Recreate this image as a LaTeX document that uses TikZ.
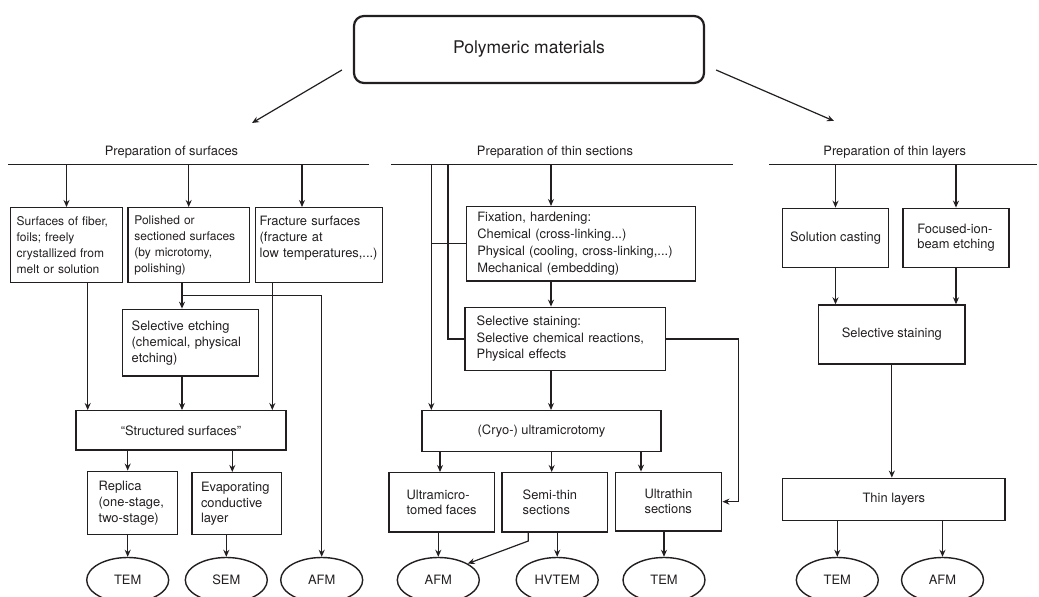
\documentclass[tikz,border=0pt]{standalone}
\usepackage{fontspec}
\setmainfont{TeX Gyre Heros}
\usepackage{tikz}
\usetikzlibrary{arrows.meta}
\usetikzlibrary{positioning,shapes.geometric}
\definecolor{ink}{RGB}{35,31,32}
\tikzset{
    box/.style={
        draw=ink,
        text=ink,
        line width=1.4pt,
        rectangle,
        inner xsep=6pt,
        inner ysep=0pt,
        align=left,
        font=\fontsize{12.9}{16.5}\selectfont
    },
    smallfont/.style={font=\fontsize{12}{16}\selectfont},
    tech/.style={
        draw=ink,
        text=ink,
        ellipse,
        line width=1.4pt,
        minimum width=82pt,
        minimum height=45pt,
        inner sep=0pt,
        font=\fontsize{12.9}{15}\selectfont
    },
    head/.style={text=ink, font=\fontsize{12.9}{15}\selectfont},
    arr/.style={
        draw=ink,
        line width=1.2pt,
        -{Stealth[length=7pt, width=6pt]}
    },
    link/.style={draw=ink, line width=1.2pt}
}

\begin{document}
\begin{tikzpicture}[x=1pt, y=-1pt]
  \useasboundingbox (0,0) rectangle (1039,597);

  % Root and the three branches
  \node[draw=ink, text=ink, line width=2.2pt, rounded corners=10pt, minimum width=350pt, minimum height=67pt, font=\fontsize{17.5}{21}\selectfont] (poly) at (529,49.5) {Polymeric materials};
  \coordinate (lft) at (252,123);
  \coordinate (rgt) at (834,121);
  \draw[arr] ([shift={(-11,20.5)}]poly.west) -- (lft);
  \draw[arr] ([shift={(11,20.5)}]poly.east) -- (rgt);

  % Preparation of surfaces
  \node[head] (hsurf) at (171.5,152) {Preparation of surfaces};
  \coordinate (s0) at (8,164.3);
  \coordinate (s1) at (369,164.3);
  \draw[link] (s0) -- (s1);

  \node[box, smallfont, minimum height=75pt, inner xsep=6pt, text width=99.6pt] (fiber) at (66.5,245.2) {Surfaces of fiber,\\foils; freely\\crystallized from\\melt or solution};
  \node[box, smallfont, minimum height=75pt, inner xsep=6.3pt, text width=108.7pt] (polish) at (188.7,245.2) {Polished or\\sectioned surfaces\\(by microtomy,\\polishing)};
  \node[box, minimum height=75pt, inner xsep=4pt, text width=119pt, font=\fontsize{12.9}{16}\selectfont] (fract) at (319.2,245.2) {Fracture surfaces\\(fracture at\\low temperatures,...)\\\mbox{}};
  \node[box, minimum height=66.7pt, inner xsep=9pt, text width=117.6pt, font=\fontsize{12.9}{16}\selectfont] (etch) at (190.5,342.7) {Selective etching\\(chemical, physical\\etching)};
  \node[box, minimum width=210pt, minimum height=39.3pt] (struct) at (181,430.4) {``Structured surfaces''};
  \node[box, minimum height=63.4pt, inner xsep=11pt, text width=68pt, font=\fontsize{12.9}{16}\selectfont] (replica) at (132.7,503) {Replica\\(one-stage,\\two-stage)};
  \node[box, minimum height=62pt, inner xsep=9pt, text width=71.7pt, font=\fontsize{12.9}{15.5}\selectfont] (evap) at (236.85,503.7) {Evaporating\\conductive\\layer};

  \node[tech] (tem1) at (127.7,580) {TEM};
  \node[tech] (sem) at (226.3,580) {SEM};
  \node[tech] (afm1) at (321.7,580) {AFM};

  \coordinate (sc) at (302,164.3);
  \coordinate (fa) at (87.7,0);
  \coordinate (fb) at (272.3,0);
  \coordinate (pa) at (182,295.7);
  \coordinate (ea) at (232.3,0);
  \draw[arr] (s0 -| fiber.north) -- (fiber.north);
  \draw[arr] (s0 -| polish.north) -- (polish.north);
  \draw[arr] (sc) -- (sc |- fract.north);
  \draw[arr] (fa |- fiber.south) -- (fa |- struct.north);
  \draw[arr] (pa |- polish.south) -- (pa |- etch.north);
  \draw[arr] (pa) -- (pa -| afm1.north) -- (afm1.north);
  \draw[arr] (pa |- etch.south) -- (pa |- struct.north);
  \draw[arr] (fb |- fract.south) -- (fb |- struct.north);
  \draw[arr] (tem1.north |- struct.south) -- (tem1.north |- replica.north);
  \draw[arr] (ea |- struct.south) -- (ea |- evap.north);
  \draw[arr] (tem1.north |- replica.south) -- (tem1.north);
  \draw[arr] (sem.north |- evap.south) -- (sem.north);

  % Preparation of thin sections
  \node[head] (hsect) at (555,152) {Preparation of thin sections};
  \coordinate (t0) at (391,164.3);
  \coordinate (t1) at (733,164.3);
  \draw[link] (t0) -- (t1);

  \node[box, minimum height=74.3pt, inner xsep=10.6pt, text width=207.8pt, font=\fontsize{12.9}{17}\selectfont] (fix) at (581.2,243.85) {Fixation, hardening:\\Chemical (cross-linking...)\\Physical (cooling, cross-linking,...)\\Mechanical (embedding)};
  \node[box, minimum height=63.4pt, inner xsep=11.7pt, text width=177.3pt] (stain) at (565.35,339) {Selective staining:\\Selective chemical reactions,\\Physical effects};
  \node[box, minimum width=239pt, minimum height=41pt] (cryo) at (541.5,431.2) {(Cryo-) ultramicrotomy};
  \node[box, minimum width=105.3pt, minimum height=59.3pt, font=\fontsize{12.9}{15}\selectfont] (faces) at (441.65,502.35) {Ultramicro-\\tomed faces};
  \node[box, minimum height=59.3pt, inner xsep=20.7pt, text width=64.3pt, font=\fontsize{12.9}{15}\selectfont] (semi) at (554.85,502.35) {Semi-thin\\sections};
  \node[box, minimum width=106.4pt, minimum height=58.7pt, font=\fontsize{12.9}{15}\selectfont] (thin) at (668.5,501.65) {Ultrathin\\sections};

  \node[tech] (afm2) at (438.3,580) {AFM};
  \node[tech] (hvtem) at (557.2,580) {HVTEM};
  \node[tech] (tem2) at (664,580) {TEM};

  \coordinate (ta) at (431.3,164.3);
  \coordinate (tb) at (448,164.3);
  \coordinate (tc) at (551,164.3);
  \coordinate (sr) at (738.3,0);
  \coordinate (ca) at (440,0);
  \coordinate (cb) at (551.7,0);
  \coordinate (cc) at (641,0);
  \coordinate (sb) at (528.3,541);
  \draw[arr] (ta) -- (ta |- cryo.north);
  \draw[link] (fix.west -| ta) -- (fix.west);
  \draw[link] (tb) |- (stain.west);
  \draw[arr] (tc) -- (tc |- fix.north);
  \draw[arr] (tc |- fix.south) -- (tc |- stain.north);
  \draw[arr] (tc |- stain.south) -- (tc |- cryo.north);
  \draw[arr] (stain.east) -- (stain.east -| sr) |- (thin.east);
  \draw[arr] (ca |- cryo.south) -- (ca |- faces.north);
  \draw[arr] (cb |- cryo.south) -- (cb |- semi.north);
  \draw[arr] (cc |- cryo.south) -- (cc |- thin.north);
  \draw[arr] (afm2.north |- faces.south) -- (afm2.north);
  \draw[arr] (hvtem.north |- semi.south) -- (hvtem.north);
  \draw[arr] (tem2.north |- thin.south) -- (tem2.north);
  \draw[arr] (sb |- semi.south) -- (sb) -- (afm2.north east);

  % Preparation of thin layers
  \node[head] (hlay) at (894.7,152) {Preparation of thin layers};
  \coordinate (r0) at (769,164.3);
  \coordinate (r1) at (1037,164.3);
  \draw[link] (r0) -- (r1);

  \node[box, minimum width=106.4pt, minimum height=59pt] (cast) at (835.5,237.8) {Solution casting};
  \node[box, minimum width=106pt, minimum height=59pt, font=\fontsize{12.9}{15.5}\selectfont] (fib) at (956,237.8) {Focused-ion-\\beam etching};
  \node[box, minimum width=146.3pt, minimum height=59pt] (rstain) at (891.85,334.5) {Selective staining};
  \node[box, minimum width=222.3pt, minimum height=42.4pt] (layers) at (893.85,499.5) {Thin layers};

  \node[tech] (tem3) at (837.3,580) {TEM};
  \node[tech] (afm3) at (942.5,580) {AFM};

  \draw[arr] (r0 -| cast.north) -- (cast.north);
  \draw[arr] (r0 -| fib.north) -- (fib.north);
  \draw[arr] (cast.south) -- (cast.south |- rstain.north);
  \draw[arr] (fib.south) -- (fib.south |- rstain.north);
  \draw[arr] (rstain.south) -- (rstain.south |- layers.north);
  \draw[arr] (tem3.north |- layers.south) -- (tem3.north);
  \draw[arr] (afm3.north |- layers.south) -- (afm3.north);
\end{tikzpicture}
\end{document}
